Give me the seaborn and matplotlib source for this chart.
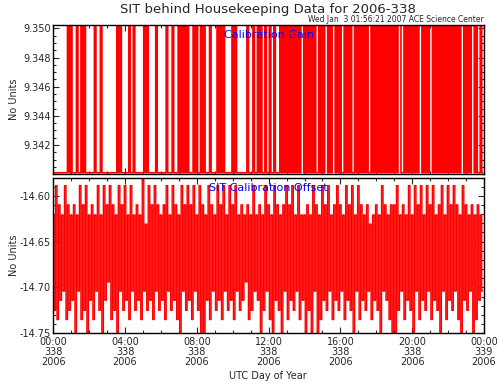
import numpy as np
import pandas as pd
import seaborn as sns
import matplotlib.pyplot as plt
from matplotlib.ticker import MultipleLocator

# SIT behind housekeeping, day 338 of 2006, 5 minute samples
minutes_per_sample = 5

# calibration gain: 0 = low level, 1 = high level
gain_levels = [9.3401, 9.3502]
gain_state = [
    0, 0, 0, 0, 0, 0, 0, 0, 0, 0, 1, 0, 1, 0, 0, 0, 1, 0, 0, 1, 0, 1, 0, 0,
    0, 0, 0, 0, 1, 0, 0, 0, 1, 0, 0, 0, 0, 0, 0, 0, 0, 0, 0, 1, 0, 1, 0, 0,
    0, 0, 0, 1, 0, 0, 1, 0, 0, 0, 0, 0, 0, 1, 0, 1, 0, 0, 0, 0, 0, 1, 0, 0,
    0, 0, 0, 0, 1, 0, 0, 0, 1, 0, 0, 0, 1, 0, 1, 0, 1, 0, 1, 0, 0, 0, 1, 0,
    1, 0, 0, 1, 0, 1, 0, 0, 0, 1, 0, 0, 0, 0, 1, 0, 1, 0, 1, 0, 0, 0, 0, 0,
    1, 0, 1, 0, 0, 0, 0, 0, 0, 0, 1, 0, 0, 0, 1, 0, 0, 1, 0, 1, 0, 0, 1, 0,
    0, 1, 0, 0, 1, 0, 0, 0, 1, 0, 1, 0, 1, 0, 1, 0, 1, 0, 1, 0, 1, 0, 1, 1,
    0, 1, 0, 1, 0, 1, 0, 1, 0, 0, 1, 0, 1, 0, 1, 1, 0, 1, 0, 1, 1, 0, 1, 0,
    1, 0, 0, 1, 0, 1, 0, 1, 0, 0, 1, 0, 1, 0, 1, 0, 1, 0, 1, 0, 0, 1, 0, 1,
    0, 1, 0, 1, 0, 1, 0, 1, 0, 1, 0, 1, 0, 1, 0, 1, 1, 0, 0, 1, 0, 1, 0, 1,
    0, 1, 0, 1, 0, 1, 1, 0, 1, 0, 1, 0, 1, 1, 0, 1, 0, 1, 0, 1, 0, 1, 0, 1,
    0, 1, 0, 1, 0, 1, 0, 1, 0, 1, 1, 0, 1, 0, 1, 0, 1, 1, 0, 1, 0, 0, 1, 0,
]

# calibration offset
offset = [
    -14.621, -14.725, -14.589, -14.735, -14.610, -14.714, -14.621, -14.704, -14.589, -14.735, -14.610, -14.725,
    -14.621, -14.714, -14.610, -14.749, -14.621, -14.704, -14.589, -14.735, -14.610, -14.725, -14.589, -14.749,
    -14.621, -14.714, -14.610, -14.735, -14.621, -14.704, -14.589, -14.725, -14.621, -14.749, -14.589, -14.714,
    -14.610, -14.694, -14.589, -14.735, -14.610, -14.725, -14.621, -14.749, -14.589, -14.704, -14.610, -14.725,
    -14.589, -14.714, -14.621, -14.735, -14.589, -14.704, -14.621, -14.725, -14.610, -14.714, -14.621, -14.735,
    -14.580, -14.704, -14.631, -14.725, -14.589, -14.714, -14.610, -14.735, -14.589, -14.704, -14.610, -14.725,
    -14.621, -14.714, -14.610, -14.735, -14.589, -14.704, -14.621, -14.725, -14.589, -14.714, -14.610, -14.735,
    -14.621, -14.749, -14.589, -14.704, -14.610, -14.725, -14.589, -14.714, -14.610, -14.735, -14.589, -14.704,
    -14.621, -14.725, -14.589, -14.749, -14.610, -14.749, -14.621, -14.714, -14.589, -14.735, -14.610, -14.704,
    -14.621, -14.725, -14.589, -14.714, -14.610, -14.735, -14.589, -14.704, -14.621, -14.725, -14.589, -14.714,
    -14.610, -14.735, -14.589, -14.704, -14.621, -14.725, -14.610, -14.714, -14.621, -14.694, -14.610, -14.735,
    -14.621, -14.725, -14.589, -14.704, -14.621, -14.714, -14.610, -14.749, -14.621, -14.725, -14.589, -14.704,
    -14.610, -14.735, -14.621, -14.749, -14.589, -14.714, -14.610, -14.725, -14.621, -14.749, -14.610, -14.704,
    -14.589, -14.735, -14.610, -14.714, -14.589, -14.725, -14.621, -14.704, -14.589, -14.735, -14.621, -14.714,
    -14.621, -14.749, -14.610, -14.725, -14.621, -14.749, -14.589, -14.704, -14.610, -14.749, -14.621, -14.735,
    -14.589, -14.714, -14.610, -14.725, -14.589, -14.704, -14.621, -14.735, -14.610, -14.714, -14.589, -14.725,
    -14.610, -14.704, -14.621, -14.735, -14.589, -14.714, -14.610, -14.725, -14.589, -14.749, -14.621, -14.704,
    -14.589, -14.735, -14.610, -14.714, -14.621, -14.725, -14.610, -14.704, -14.631, -14.735, -14.621, -14.714,
    -14.610, -14.725, -14.621, -14.749, -14.589, -14.704, -14.610, -14.714, -14.621, -14.735, -14.610, -14.749,
    -14.610, -14.749, -14.589, -14.725, -14.621, -14.704, -14.610, -14.735, -14.621, -14.714, -14.589, -14.725,
    -14.621, -14.749, -14.589, -14.704, -14.610, -14.735, -14.589, -14.714, -14.621, -14.725, -14.589, -14.704,
    -14.610, -14.735, -14.589, -14.714, -14.621, -14.725, -14.610, -14.749, -14.589, -14.704, -14.621, -14.735,
    -14.589, -14.714, -14.610, -14.725, -14.589, -14.704, -14.610, -14.735, -14.621, -14.749, -14.589, -14.714,
    -14.610, -14.725, -14.621, -14.704, -14.610, -14.749, -14.621, -14.735, -14.610, -14.714, -14.621, -14.704,
]

tick_hours = [0, 4, 8, 12, 16, 20, 24]
tick_labels = ["00:00\n338\n2006", "04:00\n338\n2006", "08:00\n338\n2006", "12:00\n338\n2006",
               "16:00\n338\n2006", "20:00\n338\n2006", "00:00\n339\n2006"]
gain_ticks = [9.342, 9.344, 9.346, 9.348, 9.350]
offset_ticks = [-14.60, -14.65, -14.70, -14.75]

hours = np.arange(len(offset)) * minutes_per_sample / 60.0
df_gain = pd.DataFrame({'hour': hours, 'gain': [gain_levels[s] for s in gain_state]})
df_off = pd.DataFrame({'hour': hours, 'offset': offset})

sns.set_style("ticks")
plt.rcParams['font.family'] = ['DejaVu Sans']

fig = plt.figure(figsize=(4.97, 3.82), dpi=100)
ax1 = fig.add_axes([0.1072, 0.5432, 0.8666, 0.3914])
ax2 = fig.add_axes([0.1072, 0.1275, 0.8666, 0.4073])

# steps so the switching reads as solid vertical bars like the IDL plot
sns.lineplot(data=df_gain, x='hour', y='gain', ax=ax1, color='#ff0000', linewidth=1.2,
             drawstyle='steps-mid', snap=False)
sns.lineplot(data=df_off, x='hour', y='offset', ax=ax2, color='#ff0000', linewidth=1.0,
             drawstyle='steps-mid', snap=False)

ax1.set_ylim(9.33998, 9.35023)
ax1.set_yticks(gain_ticks)
ax1.set_yticklabels(["%.3f" % t for t in gain_ticks])
ax1.yaxis.set_minor_locator(MultipleLocator(0.0005))

ax2.set_ylim(-14.75, -14.5804)
ax2.set_yticks(offset_ticks)
ax2.set_yticklabels(["%.2f" % t for t in offset_ticks])
ax2.yaxis.set_minor_locator(MultipleLocator(0.01))

for ax in [ax1, ax2]:
    ax.set_xlim(0, 24)
    ax.set_xticks(tick_hours)
    ax.xaxis.set_minor_locator(MultipleLocator(1))
    ax.set_xlabel("")
    ax.set_ylabel("")
    ax.tick_params(which='both', direction='in', top=True, right=True, labelsize=7, pad=2, width=0.8)
    ax.tick_params(which='major', length=4.5)
    ax.tick_params(which='minor', length=2.2)
    for s in ax.spines.values():
        s.set_linewidth(1.0)
        s.set_color('black')
        s.set_zorder(3)

ax1.set_xticklabels([])
ax2.set_xticklabels(tick_labels, linespacing=0.95)
ax2.tick_params(axis='x', pad=3)

ax1.text(0.5, 0.933, "Calibration Gain", transform=ax1.transAxes, ha='center', va='center',
         color='#0000ff', fontsize=8, zorder=4)
ax2.text(0.5, 0.934, "SIT Calibration Offset", transform=ax2.transAxes, ha='center', va='center',
         color='#0000ff', fontsize=8, zorder=4)

fig.text(14 / 497, 0.7389, "No Units", rotation=90, ha='center', va='center', fontsize=7)
fig.text(14 / 497, 0.3312, "No Units", rotation=90, ha='center', va='center', fontsize=7)
fig.text(268 / 497, 1 - 10 / 382, "SIT behind Housekeeping Data for 2006-338", ha='center', va='center',
         fontsize=9.5)
fig.text(484 / 497, 1 - 20 / 382, "Wed Jan  3 01:56:21 2007 ACE Science Center", ha='right', va='center',
         fontsize=5.5)
fig.text(268 / 497, 1 - 376 / 382, "UTC Day of Year", ha='center', va='center', fontsize=7)

plt.savefig("out.png", dpi=100)
